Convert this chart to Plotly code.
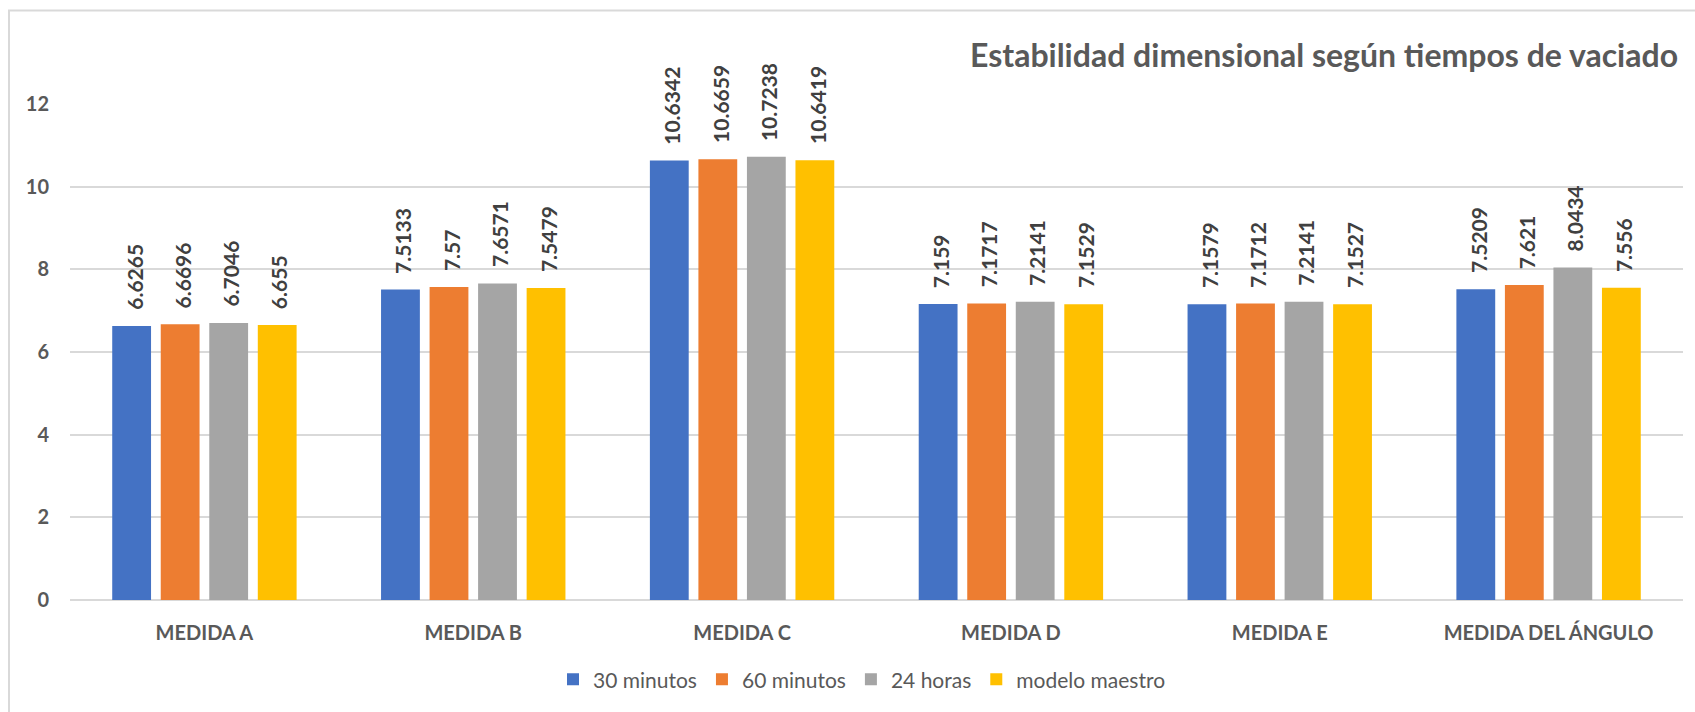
import plotly.graph_objects as go

categories = ["MEDIDA A", "MEDIDA B", "MEDIDA C", "MEDIDA D", "MEDIDA E", "MEDIDA DEL ÁNGULO"]
series_names = ["30 minutos", "60 minutos", "24 horas", "modelo maestro"]
v30 = [6.6265, 7.5133, 10.6342, 7.159, 7.1579, 7.5209]
v60 = [6.6696, 7.57, 10.6659, 7.1717, 7.1712, 7.621]
v24h = [6.7046, 7.6571, 10.7238, 7.2141, 7.2141, 8.0434]
vmaestro = [6.655, 7.5479, 10.6419, 7.1529, 7.1527, 7.556]
label_texts = [
    ["6.6265", "7.5133", "10.6342", "7.159", "7.1579", "7.5209"],
    ["6.6696", "7.57", "10.6659", "7.1717", "7.1712", "7.621"],
    ["6.7046", "7.6571", "10.7238", "7.2141", "7.2141", "8.0434"],
    ["6.655", "7.5479", "10.6419", "7.1529", "7.1527", "7.556"],
]
colors = ["#4472C4", "#ED7D31", "#A5A5A5", "#FFC000"]
y_ticks = [0, 2, 4, 6, 8, 10, 12]
title_text = "Estabilidad dimensional según tiempos de vaciado"

W, H = 1695, 712
ML, MR, MT, MB = 70, 12, 104, 110
BARGAP = 0.278
BARGROUPGAP = 0.2
FONT = "Lato"

all_vals = [v30, v60, v24h, vmaestro]

fig = go.Figure()
for name, vals, col in zip(series_names, all_vals, colors):
    fig.add_trace(go.Bar(
        x=categories, y=vals, name=name,
        marker=dict(color=col, line=dict(width=0)),
    ))

# data labels (rotated) placed above each bar
n = len(all_vals)
slot = (1 - BARGAP) / n
annotations = []
for j, (vals, texts) in enumerate(zip(all_vals, label_texts)):
    for i, (v, t) in enumerate(zip(vals, texts)):
        annotations.append(dict(
            x=i + (j - (n - 1) / 2) * slot, y=v, xref="x", yref="y",
            text=t, showarrow=False, textangle=-90,
            xanchor="center", yanchor="bottom", yshift=14, xshift=2,
            font=dict(family=FONT, size=21, color="#404040", weight="bold"),
        ))

pw = W - ML - MR
ph = H - MT - MB
annotations.append(dict(
    x=(968 - ML) / pw, y=1 + (MT - 54) / ph, xref="paper", yref="paper",
    text=f"<b>{title_text}</b>", showarrow=False, xanchor="left", yanchor="middle",
    font=dict(family=FONT, size=32, color="#595959"),
))

# chart-area border
shapes = [dict(
    type="rect", xref="paper", yref="paper",
    x0=(9 - ML) / pw, x1=(W + 20 - ML) / pw,
    y0=-(H + 20 - MT - ph) / ph, y1=1 + (MT - 10) / ph,
    line=dict(color="#D9D9D9", width=2), fillcolor="rgba(0,0,0,0)", layer="below",
)]

fig.update_layout(
    width=W, height=H,
    margin=dict(l=ML, r=MR, t=MT, b=MB, pad=0),
    paper_bgcolor="white", plot_bgcolor="white",
    barmode="group", bargap=BARGAP, bargroupgap=BARGROUPGAP,
    showlegend=True,
    legend=dict(
        orientation="h", x=(862 - ML) / pw, xanchor="center",
        y=-(682 - MT - ph) / ph, yanchor="middle",
        font=dict(family=FONT, size=21, color="#595959"),
        itemwidth=30, traceorder="normal",
    ),
    annotations=annotations,
    shapes=shapes,
    xaxis=dict(
        type="category", showgrid=False, showline=False, zeroline=False,
        ticks="", ticklabelstandoff=19,
        tickfont=dict(family=FONT, size=20, color="#595959", weight="bold"),
    ),
    yaxis=dict(
        range=[0, 12], tickvals=y_ticks, showgrid=True, gridcolor="#D9D9D9", gridwidth=2,
        zeroline=True, zerolinecolor="#D9D9D9", zerolinewidth=2,
        showline=False, ticks="", ticklabelstandoff=20,
        tickfont=dict(family=FONT, size=20, color="#595959", weight="bold"),
    ),
)

fig.write_html("out.html")
